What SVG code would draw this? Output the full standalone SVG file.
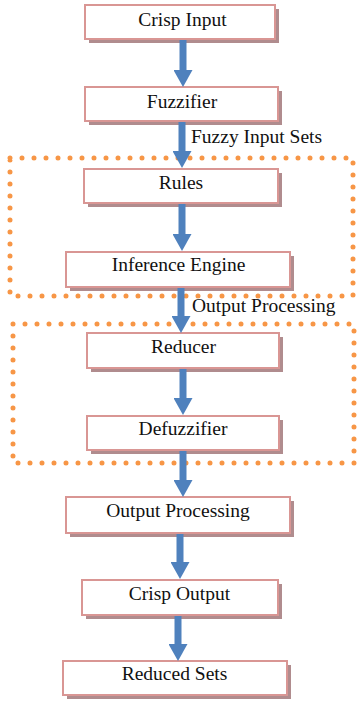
<svg xmlns="http://www.w3.org/2000/svg" width="357" height="701" viewBox="0 0 357 701">
<style>
.box{fill:#fff;stroke:#d99694;stroke-width:2}
.shadow{fill:#b08c8e}
text{font-family:'Liberation Serif','DejaVu Serif','Times New Roman',serif;font-size:19.5px;fill:#111}
.lbl{text-anchor:middle}
.dot{fill:none;stroke:#f79646;stroke-width:5;stroke-linecap:round;stroke-dasharray:0 12}
.arr{stroke:#4f81bd;stroke-width:7;fill:none;marker-end:url(#ah)}
</style>
<defs>
<marker id="ah" markerUnits="userSpaceOnUse" markerWidth="18" markerHeight="19" refX="0" refY="9.5" orient="auto">
<path d="M0,0 L17,9.5 L0,19 z" fill="#4f81bd"/>
</marker>
</defs>
<g id="groups">
<rect class="dot" x="10" y="158" width="343" height="138"/>
<rect class="dot" x="13" y="324" width="341" height="139"/>
</g>
<g id="n1"><rect class="shadow" x="89" y="9" width="190" height="34"/><rect class="box" x="85" y="5" width="190" height="34"/><text class="lbl" x="182.5" y="26" font-family="Liberation Serif, serif">Crisp Input</text></g>
<g id="n2"><rect class="shadow" x="89" y="91" width="193" height="34"/><rect class="box" x="85" y="87" width="193" height="34"/><text class="lbl" x="182" y="108" font-family="Liberation Serif, serif">Fuzzifier</text></g>
<g id="n3"><rect class="shadow" x="88" y="173" width="194" height="34"/><rect class="box" x="84" y="169" width="194" height="34"/><text class="lbl" x="181" y="189" font-family="Liberation Serif, serif">Rules</text></g>
<g id="n4"><rect class="shadow" x="70" y="256" width="224" height="35"/><rect class="box" x="66" y="252" width="224" height="35"/><text class="lbl" x="178.5" y="271" font-family="Liberation Serif, serif">Inference Engine</text></g>
<g id="n5"><rect class="shadow" x="91" y="337" width="192" height="35"/><rect class="box" x="87" y="333" width="192" height="35"/><text class="lbl" x="183.5" y="353" font-family="Liberation Serif, serif">Reducer</text></g>
<g id="n6"><rect class="shadow" x="91" y="420" width="192" height="34"/><rect class="box" x="87" y="416" width="192" height="34"/><text class="lbl" x="183" y="435" font-family="Liberation Serif, serif">Defuzzifier</text></g>
<g id="n7"><rect class="shadow" x="70" y="501" width="224" height="36"/><rect class="box" x="66" y="497" width="224" height="36"/><text class="lbl" x="178" y="517" font-family="Liberation Serif, serif">Output Processing</text></g>
<g id="n8"><rect class="shadow" x="86" y="584" width="196" height="35"/><rect class="box" x="82" y="580" width="196" height="35"/><text class="lbl" x="179.5" y="600" font-family="Liberation Serif, serif">Crisp Output</text></g>
<g id="n9"><rect class="shadow" x="67" y="665" width="224" height="34"/><rect class="box" x="63" y="661" width="224" height="34"/><text class="lbl" x="174.5" y="680" font-family="Liberation Serif, serif">Reduced Sets</text></g>
<g id="connectors">
<line class="arr" x1="183" y1="40" x2="183" y2="70"/>
<line class="arr" x1="182" y1="122" x2="182" y2="151"/>
<line class="arr" x1="182" y1="204" x2="182" y2="234"/>
<line class="arr" x1="181" y1="288" x2="181" y2="316"/>
<line class="arr" x1="183" y1="369" x2="183" y2="398"/>
<line class="arr" x1="183" y1="451" x2="183" y2="480"/>
<line class="arr" x1="180" y1="534" x2="180" y2="562"/>
<line class="arr" x1="178" y1="616" x2="178" y2="644"/>
<text x="191" y="143" font-family="Liberation Serif, serif">Fuzzy Input Sets</text>
<text x="192" y="312" font-family="Liberation Serif, serif">Output Processing</text>
</g>
</svg>
